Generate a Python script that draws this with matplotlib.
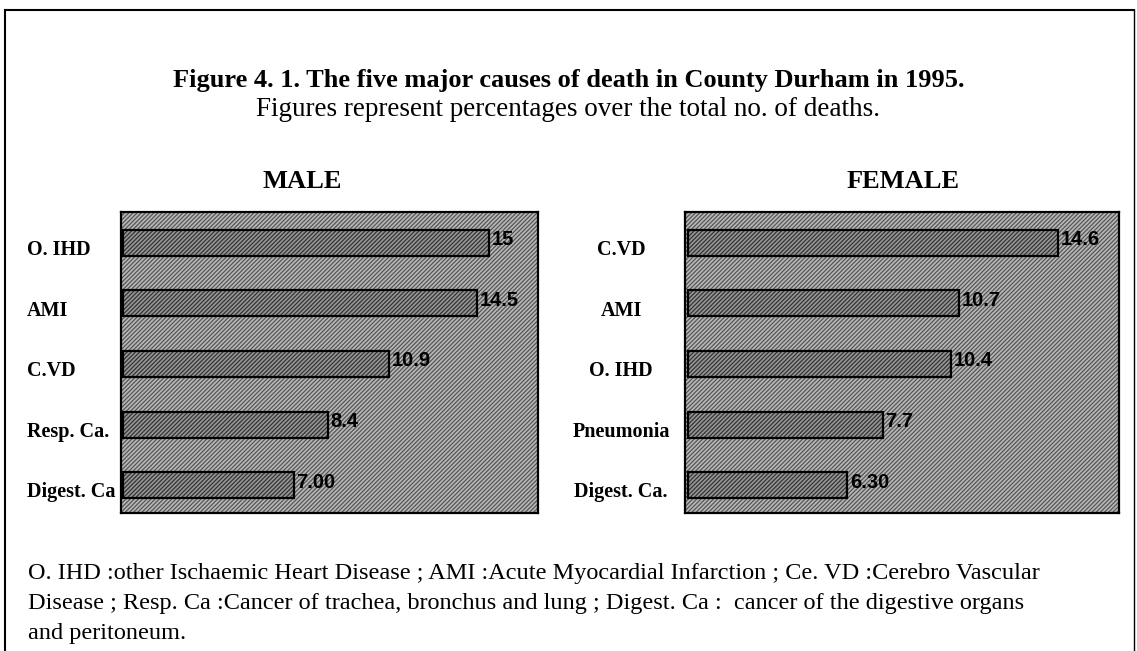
import matplotlib
matplotlib.use("Agg")
import matplotlib.pyplot as plt
from matplotlib.patches import Rectangle
from matplotlib.lines import Line2D
from matplotlib.transforms import blended_transform_factory

# Data
male_causes = ["O. IHD", "AMI", "C.VD", "Resp. Ca.", "Digest. Ca"]
male_values = [15, 14.5, 10.9, 8.4, 7.00]
male_labels = ["15", "14.5", "10.9", "8.4", "7.00"]

female_causes = ["C.VD", "AMI", "O. IHD", "Pneumonia", "Digest. Ca."]
female_values = [14.6, 10.7, 10.4, 7.7, 6.30]
female_labels = ["14.6", "10.7", "10.4", "7.7", "6.30"]

title = "Figure 4. 1. The five major causes of death in County Durham in 1995."
subtitle = "Figures represent percentages over the total no. of deaths."
footnote = [
    "O. IHD :other Ischaemic Heart Disease ; AMI :Acute Myocardial Infarction ; Ce. VD :Cerebro Vascular",
    "Disease ; Resp. Ca :Cancer of trachea, bronchus and lung ; Digest. Ca :  cancer of the digestive organs",
    "and peritoneum.",
]

plt.rcParams["font.family"] = ["Liberation Serif", "DejaVu Serif"]
plt.rcParams["hatch.linewidth"] = 0.9

W, H = 1137, 651
fig = plt.figure(figsize=(W / 100, H / 100), dpi=100)


def fx(px):
    return px / W


def fy(px):
    return 1 - px / H


def panel(left, right, causes, values, labels, label_x, label_ha):
    ax = fig.add_axes([fx(left), fy(513), fx(right - left), fy(212) - fy(513)])
    ax.set_xlim(-0.1, 17.0)
    ax.set_ylim(4.46, -0.51)
    # hatched background
    ax.add_patch(Rectangle((0, 0), 1, 1, transform=ax.transAxes, facecolor="#b8b8b8",
                           edgecolor="#555555", hatch="////////", linewidth=0, zorder=0))
    pos = list(range(len(values)))
    ax.barh(pos, values, height=0.43, color="#979797", edgecolor="#333333",
            hatch="////////", linewidth=0, zorder=2)
    ax.barh(pos, values, height=0.43, color="none", edgecolor="black",
            linewidth=1.6, zorder=3)
    for p, v, t in zip(pos, values, labels):
        ax.text(v + 0.1, p - 0.05, t, ha="left", va="center", fontsize=14.5,
                fontweight="bold", family="Liberation Sans", zorder=4)
    trans = blended_transform_factory(fig.transFigure, ax.transData)
    for p, c in zip(pos, causes):
        ax.text(fx(label_x), p + 0.12, c, transform=trans,
                ha=label_ha, va="center", fontsize=14.5, fontweight="bold")
    ax.set_xticks([])
    ax.set_yticks([])
    for s in ax.spines.values():
        s.set_linewidth(1.6)
    return ax


panel(121, 538, male_causes, male_values, male_labels, 27, "left")
panel(685, 1119, female_causes, female_values, female_labels, 621, "center")

fig.text(0.5, fy(80), title, ha="center", va="center", fontsize=19, fontweight="bold")
fig.text(0.5, fy(109), subtitle, ha="center", va="center", fontsize=19.5)
fig.text(fx(302), fy(182), "MALE", ha="center", va="center", fontsize=19, fontweight="bold")
fig.text(fx(903), fy(182), "FEMALE", ha="center", va="center", fontsize=19, fontweight="bold")

for i, line in enumerate(footnote):
    fig.text(fx(28), fy(574 + 30 * i), line, ha="left", va="center", fontsize=17.5)

# outer frame
fig.add_artist(Line2D([fx(5), fx(1134)], [fy(10), fy(10)], color="black", lw=1.5))
fig.add_artist(Line2D([fx(5), fx(5)], [fy(10), 0], color="black", lw=1.5))
fig.add_artist(Line2D([fx(1134), fx(1134)], [fy(10), 0], color="black", lw=1.0))

fig.savefig("out.png", dpi=100)
